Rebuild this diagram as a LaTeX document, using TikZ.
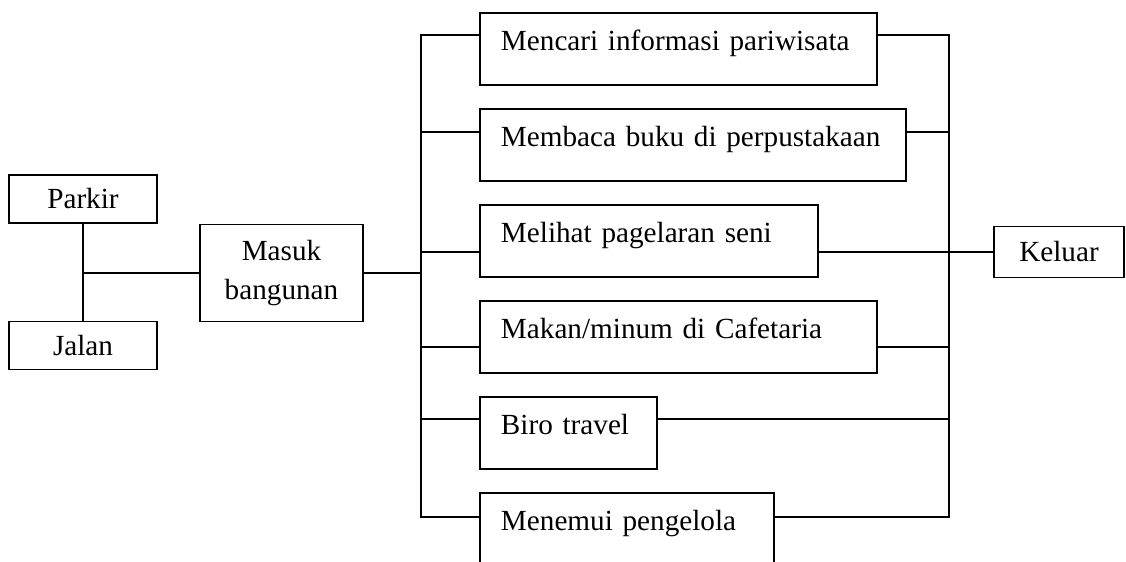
\documentclass[tikz,border=0pt]{standalone}
\usepackage{fontspec}
\setmainfont{Liberation Serif}
\usepackage{tikz}
\newlength{\unitpx}
\setlength{\unitpx}{0.411pt}
\newcommand{\widthplace}{148\unitpx}
\newcommand{\heightplace}{48\unitpx}
\newcommand{\padact}{21\unitpx}
\newcommand{\stepact}{96}
\tikzset{
    common/.style={draw, rectangle, line width=0.8pt, inner sep=0pt},
    place/.style={common, minimum width=\widthplace, minimum height=\heightplace},
    entry/.style={common, align=center, minimum width=163\unitpx, minimum height=97\unitpx},
    activity/.style={common, anchor=north west, align=left, inner xsep=\padact,
        text height=38\unitpx, text depth=34\unitpx},
    exit/.style={common, minimum width=130\unitpx, minimum height=51\unitpx},
    link/.style={line width=0.8pt}
}

\begin{document}
\begin{tikzpicture}[x=1\unitpx, y=-1\unitpx, font=\fontsize{12pt}{16.4pt}\selectfont]
        \useasboundingbox (0,0) rectangle (1126,561);

        \path
            node[place] (parkir) at (83,199) {Parkir}
            node[place] (jalan) at (83,345.5) {Jalan}
            node[entry] (masuk) at (281.5,273) {Masuk\\bangunan}
            node[exit] (keluar) at (1059,252) {Keluar};

        \path (479,12)
            node[activity, text width=355\unitpx] (act1) {Mencari informasi pariwisata}
            ++(0,\stepact) node[activity, text width=384\unitpx] (act2) {Membaca buku di perpustakaan}
            ++(0,\stepact) node[activity, text width=296\unitpx] (act3) {Melihat pagelaran seni}
            ++(0,\stepact) node[activity, text width=355\unitpx] (act4) {Makan/minum di Cafetaria}
            ++(0,\stepact) node[activity, text width=135\unitpx] (act5) {Biro travel}
            ++(0,\stepact) node[activity, text width=252\unitpx] (act6) {Menemui pengelola};

        \coordinate (join) at (83,273);
        \coordinate (busL-top) at (421,35);
        \coordinate (busL-mid) at (421,273);
        \coordinate (busL-bot) at (421,517);
        \coordinate (busR-top) at (949,35);
        \coordinate (busR-mid) at (949,252);
        \coordinate (busR-bot) at (949,517);
        \coordinate (br2) at (421,132);
        \coordinate (br3) at (421,252);
        \coordinate (br4) at (421,347);
        \coordinate (br5) at (421,419);

        \draw[link] (parkir) -- (jalan);
        \draw[link] (join) -- (masuk);
        \draw[link] (masuk) -- (busL-mid);
        \draw[link] (act1.west |- busL-top) -- (busL-top) -- (busL-bot) -- (act6.west |- busL-bot);
        \draw[link] (act1.east |- busR-top) -- (busR-top) -- (busR-bot) -- (act6.east |- busR-bot);
        \draw[link] (br2) -- (br2 -| act2.west) (act2.east |- br2) -- (br2 -| busR-top);
        \draw[link] (br3) -- (br3 -| act3.west) (act3.east |- br3) -- (busR-mid);
        \draw[link] (br4) -- (br4 -| act4.west) (act4.east |- br4) -- (br4 -| busR-top);
        \draw[link] (br5) -- (br5 -| act5.west) (act5.east |- br5) -- (br5 -| busR-top);
        \draw[link] (busR-mid) -- (keluar);
    \end{tikzpicture}
\end{document}
